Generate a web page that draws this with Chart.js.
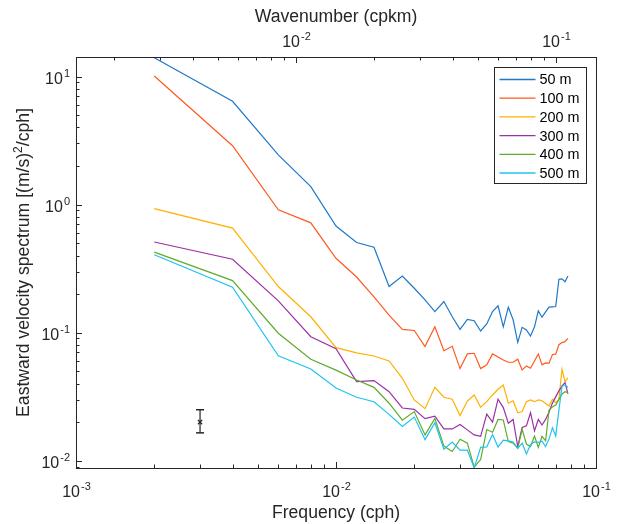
<!DOCTYPE html>
<html>
<head>
<meta charset="utf-8">
<title>Eastward velocity spectrum</title>
<script src="https://cdn.jsdelivr.net/npm/chart.js@4.4.1/dist/chart.umd.min.js"></script>
<style>
  html, body { margin: 0; padding: 0; background: #fff; }
  #wrap { width: 618px; height: 524px; }
</style>
</head>
<body>
<div id="wrap"><canvas id="spectrum-chart" width="618" height="524"></canvas></div>
<script>
// Frequency bins (cph)
const frequencies = [
  0.002, 0.004, 0.006, 0.008, 0.010, 0.012, 0.014, 0.016, 0.018, 0.020,
  0.022, 0.024, 0.026, 0.028, 0.030, 0.032, 0.034, 0.036, 0.038, 0.040,
  0.042, 0.044, 0.046, 0.048, 0.050, 0.052, 0.054, 0.056, 0.058, 0.060,
  0.062, 0.064, 0.066, 0.068, 0.070, 0.072, 0.074, 0.076, 0.078
];

// Spectra per depth, (m/s)^2/cph
const depthLabels = ["50 m", "100 m", "200 m", "300 m", "400 m", "500 m"];

const spec50 = [
  14, 6.4, 2.44, 1.38, 0.68, 0.505, 0.464, 0.229, 0.277, 0.222,
  0.18, 0.146, 0.175, 0.133, 0.106, 0.127, 0.124, 0.103, 0.117, 0.146,
  0.162, 0.111, 0.158, 0.126, 0.084, 0.110, 0.105, 0.094, 0.111, 0.148,
  0.132, 0.145, 0.158, 0.159, 0.160, 0.261, 0.263, 0.250, 0.277
];
const spec100 = [
  10.1, 2.88, 0.91, 0.72, 0.381, 0.272, 0.190, 0.137, 0.106, 0.104,
  0.0778, 0.111, 0.0723, 0.0783, 0.0524, 0.0682, 0.069, 0.0524, 0.056, 0.0682,
  0.0646, 0.0612, 0.0587, 0.0587, 0.062, 0.0512, 0.055, 0.0527, 0.060, 0.0682,
  0.056, 0.058, 0.0577, 0.0675, 0.068, 0.0805, 0.0836, 0.085, 0.0903
];
const spec200 = [
  0.93, 0.655, 0.229, 0.133, 0.0764, 0.0694, 0.0657, 0.0601, 0.044, 0.0298,
  0.0255, 0.0374, 0.0313, 0.0302, 0.0225, 0.0292, 0.0326, 0.0261, 0.0289, 0.0326,
  0.0361, 0.039, 0.0281, 0.0294, 0.0237, 0.0242, 0.0289, 0.0298, 0.0289, 0.0298,
  0.0294, 0.028, 0.0267, 0.0302, 0.0284, 0.030, 0.0518, 0.0414, 0.0443
];
const spec300 = [
  0.51, 0.374, 0.177, 0.093, 0.075, 0.0414, 0.0422, 0.0346, 0.0258, 0.0252,
  0.0213, 0.0223, 0.0177, 0.0177, 0.0192, 0.0174, 0.0159, 0.0155, 0.0231, 0.020,
  0.0302, 0.026, 0.0196, 0.021, 0.0129, 0.0182, 0.0187, 0.0237, 0.0171, 0.021,
  0.019, 0.021, 0.024, 0.0282, 0.0315, 0.0351, 0.0384, 0.0407, 0.0332
];
const spec400 = [
  0.425, 0.255, 0.099, 0.062, 0.051, 0.0427, 0.0374, 0.0281, 0.0207, 0.0242,
  0.0159, 0.0214, 0.013, 0.0118, 0.0147, 0.0137, 0.0089, 0.0102, 0.0175, 0.0167,
  0.021, 0.0208, 0.0141, 0.0137, 0.0125, 0.0176, 0.0135, 0.0129, 0.0156, 0.0127,
  0.0155, 0.0143, 0.0249, 0.0263, 0.0272, 0.0301, 0.0332, 0.0346, 0.034
];
const spec500 = [
  0.406, 0.226, 0.066, 0.052, 0.037, 0.0313, 0.0289, 0.023, 0.0185, 0.0219,
  0.0146, 0.0198, 0.0123, 0.014, 0.0121, 0.0121, 0.0088, 0.0127, 0.0128, 0.016,
  0.0128, 0.0145, 0.0143, 0.014, 0.0125, 0.0137, 0.0113, 0.0134, 0.014, 0.0139,
  0.0142, 0.0129, 0.0148, 0.0181, 0.0156, 0.0249, 0.0381, 0.039, 0.0374
];

// Error bar shown in the lower left
const errorBarFreq = 0.003;
const errorBarMid = 0.02;
const errorBarLow = 0.0165;
const errorBarHigh = 0.025;

// Axis limits
const freqMin = 0.001;
const freqMax = 0.1;
const specMin = 0.00877;
const specMax = 14.2;
// cph -> cpkm factor used by the top axis
const cphToCpkm = 1.425;

const lineColors = ["#1f78c8", "#ff5a1f", "#ffb000", "#9b2fa6", "#5fab2b", "#1ec3f0"];

const FONT = '"Liberation Sans", Arial, Helvetica, sans-serif';
const INK = "#262626";

// Draw "10" with a raised exponent
function drawPower(ctx, exp, x, y, align) {
  ctx.font = "16px " + FONT;
  const baseW = ctx.measureText("10").width;
  ctx.font = "11px " + FONT;
  const expW = ctx.measureText(exp).width;
  const total = baseW + expW + 1;
  const left = align === "right" ? x - total : x - total / 2;
  ctx.textAlign = "left";
  ctx.textBaseline = "alphabetic";
  ctx.font = "16px " + FONT;
  ctx.fillText("10", left, y);
  ctx.font = "11px " + FONT;
  ctx.fillText(exp, left + baseW + 1, y - 7);
}

// Inward tick marks for a log scale
function drawLogTicks(ctx, scale, side, area) {
  const lo = Math.floor(Math.log10(scale.min));
  const hi = Math.ceil(Math.log10(scale.max));
  const majors = [];
  for (let d = lo; d <= hi; d++) {
    for (let m = 1; m <= 9; m++) {
      const v = m * Math.pow(10, d);
      if (v < scale.min * 0.9999 || v > scale.max * 1.0001) continue;
      const p = Math.round(scale.getPixelForValue(v)) + 0.5;
      const len = m === 1 ? 6 : 3.5;
      ctx.beginPath();
      if (side === "bottom") { ctx.moveTo(p, area.bottom); ctx.lineTo(p, area.bottom - len); }
      if (side === "top") { ctx.moveTo(p, area.top); ctx.lineTo(p, area.top + len); }
      if (side === "left") { ctx.moveTo(area.left, p); ctx.lineTo(area.left + len, p); }
      ctx.stroke();
      if (m === 1) majors.push({ d: d, p: p });
    }
  }
  return majors;
}

// Axes, labels and legend drawn on top, MATLAB style
const axesPlugin = {
  id: "matlabAxes",
  afterDraw(chart) {
    const ctx = chart.ctx;
    const area = chart.chartArea;
    ctx.save();
    ctx.strokeStyle = INK;
    ctx.fillStyle = INK;
    ctx.lineWidth = 1;

    // ticks
    const xMajors = drawLogTicks(ctx, chart.scales.x, "bottom", area);
    const x2Majors = drawLogTicks(ctx, chart.scales.x2, "top", area);
    const yMajors = drawLogTicks(ctx, chart.scales.y, "left", area);

    // box
    ctx.strokeRect(Math.round(area.left) + 0.5, Math.round(area.top) + 0.5,
      Math.round(area.right - area.left), Math.round(area.bottom - area.top));

    // tick labels
    xMajors.forEach(t => drawPower(ctx, String(t.d), t.p, area.bottom + 29, "center"));
    x2Majors.forEach(t => drawPower(ctx, String(t.d), t.p, area.top - 10, "center"));
    yMajors.forEach(t => drawPower(ctx, String(t.d), area.left - 6, t.p + 6, "right"));

    // axis titles
    ctx.font = "17.6px " + FONT;
    ctx.textAlign = "center";
    ctx.textBaseline = "alphabetic";
    const cx = (area.left + area.right) / 2;
    ctx.fillText("Frequency (cph)", cx, area.bottom + 50);
    ctx.fillText("Wavenumber (cpkm)", cx, area.top - 35);

    // y title with superscript 2
    const partA = "Eastward velocity spectrum [(m/s)";
    const partB = "/cph]";
    ctx.font = "17.6px " + FONT;
    const wA = ctx.measureText(partA).width;
    const wB = ctx.measureText(partB).width;
    ctx.font = "12px " + FONT;
    const wS = ctx.measureText("2").width;
    const totalW = wA + wS + wB;
    ctx.translate(29, (area.top + area.bottom) / 2);
    ctx.rotate(-Math.PI / 2);
    ctx.textAlign = "left";
    ctx.font = "17.6px " + FONT;
    ctx.fillText(partA, -totalW / 2, 0);
    ctx.font = "12px " + FONT;
    ctx.fillText("2", -totalW / 2 + wA, -7);
    ctx.font = "17.6px " + FONT;
    ctx.fillText(partB, -totalW / 2 + wA + wS, 0);
    ctx.setTransform(1, 0, 0, 1, 0, 0);

    // legend
    const bx = Math.round(area.right - 10) + 0.5;
    const by = Math.round(area.top + 10) + 0.5;
    const bw = 92, bh = 116;
    ctx.fillStyle = "#fff";
    ctx.fillRect(bx - bw, by, bw, bh);
    ctx.strokeStyle = INK;
    ctx.strokeRect(bx - bw, by, bw, bh);
    ctx.font = "14.4px " + FONT;
    ctx.textBaseline = "middle";
    depthLabels.forEach((label, i) => {
      const y = by + 12 + i * 18.7;
      ctx.strokeStyle = lineColors[i];
      ctx.lineWidth = 1.3;
      ctx.beginPath();
      ctx.moveTo(bx - bw + 5, y);
      ctx.lineTo(bx - bw + 41, y);
      ctx.stroke();
      ctx.fillStyle = "#000";
      ctx.fillText(label, bx - bw + 45, y + 1);
    });
    ctx.restore();
  }
};

// Build line datasets
const allSpectra = [spec50, spec100, spec200, spec300, spec400, spec500];
const datasets = allSpectra.map((spec, i) => ({
  label: depthLabels[i],
  data: frequencies.map((f, j) => ({ x: f, y: spec[j] })),
  borderColor: lineColors[i],
  borderWidth: 1.2,
  pointRadius: 0,
  tension: 0,
  fill: false,
  order: allSpectra.length - i
}));

// Error bar: vertical line with caps, and a cross at the estimate
datasets.push({
  label: "error",
  data: [{ x: errorBarFreq, y: errorBarLow }, { x: errorBarFreq, y: errorBarHigh }],
  borderColor: INK,
  borderWidth: 1.2,
  pointStyle: "line",
  pointRadius: 4,
  pointBorderWidth: 1.5,
  pointBorderColor: INK,
  showLine: true,
  order: 0
});
datasets.push({
  label: "estimate",
  data: [{ x: errorBarFreq, y: errorBarMid }],
  borderColor: INK,
  pointStyle: "crossRot",
  pointRadius: 3,
  pointBorderWidth: 1.2,
  pointBorderColor: INK,
  showLine: false,
  order: 0
});

const spectrumCtx = document.getElementById("spectrum-chart").getContext("2d");
const spectrumChart = new Chart(spectrumCtx, {
  type: "line",
  data: { datasets: datasets },
  options: {
    responsive: false,
    animation: false,
    devicePixelRatio: 1,
    layout: { padding: { left: 76, right: 22, top: 57, bottom: 56 } },
    plugins: { legend: { display: false }, tooltip: { enabled: false } },
    events: [],
    scales: {
      x: { type: "logarithmic", position: "bottom", min: freqMin, max: freqMax, display: false },
      x2: { type: "logarithmic", position: "top", min: freqMin * cphToCpkm, max: freqMax * cphToCpkm, display: false },
      y: { type: "logarithmic", position: "left", min: specMin, max: specMax, display: false }
    }
  },
  plugins: [axesPlugin]
});
</script>
</body>
</html>
